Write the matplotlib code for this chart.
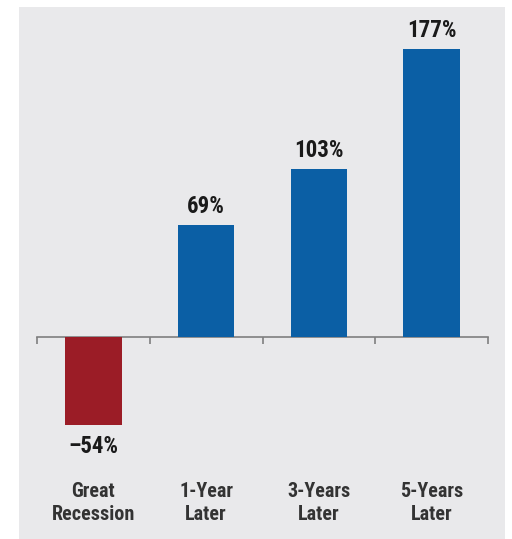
import numpy as np
import matplotlib.pyplot as plt
from matplotlib.patches import Rectangle
from matplotlib.transforms import blended_transform_factory

categories = ['Great\nRecession', '1-Year\nLater', '3-Years\nLater', '5-Years\nLater']
values = [-54, 69, 103, 177]
labels = ['\u201354%', '69%', '103%', '177%']
colors = ['#9b1c26', '#0b5fa5', '#0b5fa5', '#0b5fa5']

font = ['Roboto Condensed', 'Liberation Sans', 'DejaVu Sans']

fig = plt.figure(figsize=(5.12, 5.39), dpi=100, facecolor='white')
# light grey panel behind the chart
fig.patches.append(Rectangle((19 / 512, 0), 486 / 512, 532 / 539,
                             transform=fig.transFigure, facecolor='#e9e9eb',
                             edgecolor='none', zorder=-1))

ax = fig.add_axes([37 / 512, 79 / 539, 451 / 512, 440 / 539])
ax.set_zorder(2)
ax.patch.set_visible(False)

x = np.arange(len(categories))
ax.bar(x, values, width=0.5, color=colors, zorder=3)
ax.set_xlim(-0.5, len(categories) - 0.5)
ax.set_ylim(-75.5, 194.5)

for s in ['top', 'right', 'left']:
    ax.spines[s].set_visible(False)
ax.spines['bottom'].set_position(('data', 0))
ax.spines['bottom'].set_color('#7f7f7f')
ax.spines['bottom'].set_linewidth(1.2)
ax.set_yticks([])
ax.set_xticks(x)
ax.set_xticklabels([])
ax.tick_params(axis='x', which='major', length=0)
ax.set_xticks(np.arange(-0.5, len(categories)), minor=True)
ax.tick_params(axis='x', which='minor', length=5, width=1.2,
               color='#7f7f7f', direction='out')

for xi, v, lab in zip(x, values, labels):
    if v >= 0:
        ax.annotate(lab, (xi, v), xytext=(0, 5), textcoords='offset points',
                    ha='center', va='bottom', fontsize=16.5, fontweight='bold',
                    family=font, color='#1a1a1a')
    else:
        ax.annotate(lab, (xi, v), xytext=(0, -7), textcoords='offset points',
                    ha='center', va='top', fontsize=16.5, fontweight='bold',
                    family=font, color='#1a1a1a')

trans = blended_transform_factory(ax.transData, ax.transAxes)
for xi, cat in zip(x, categories):
    ax.text(xi, -0.098, cat, transform=trans, ha='center', va='center',
            fontsize=14.5, fontweight='bold', family=font, color='#333333',
            linespacing=1.25)

fig.savefig('out.png', dpi=100, facecolor='white')
